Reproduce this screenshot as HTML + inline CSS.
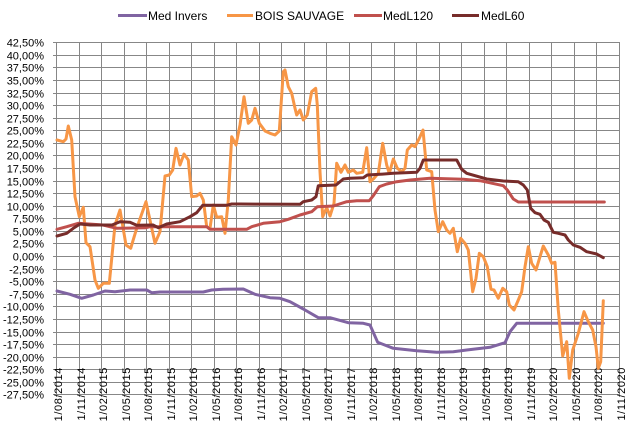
<!DOCTYPE html>
<html><head><meta charset="utf-8"><style>
html,body{margin:0;padding:0;background:#fff;}
svg{display:block;}
text{font-family:"Liberation Sans",sans-serif;fill:#000;}
</style></head><body>
<svg width="642" height="431" viewBox="0 0 642 431" xmlns="http://www.w3.org/2000/svg">
<rect width="642" height="431" fill="#fff"/>
<!-- legend -->
<g stroke-width="3">
<line x1="118" y1="15.5" x2="147" y2="15.5" stroke="#8064A2"/>
<line x1="227" y1="15.5" x2="253" y2="15.5" stroke="#F79646"/>
<line x1="354" y1="15.5" x2="382" y2="15.5" stroke="#C0504D"/>
<line x1="452" y1="15.5" x2="479" y2="15.5" stroke="#772C2A"/>
</g>
<g font-size="12">
<text x="148" y="20">Med Invers</text>
<text x="255" y="20">BOIS SAUVAGE</text>
<text x="383" y="20">MedL120</text>
<text x="481" y="20">MedL60</text>
</g>
<!-- grid -->
<path fill="none" stroke="#878787" stroke-width="1" d="
M53 42.5H620M53 55.5H620M53 67.5H620M53 80.5H620M53 93.5H620M53 105.5H620M53 118.5H620M53 130.5H620M53 143.5H620M53 155.5H620M53 168.5H620M53 181.5H620M53 193.5H620M53 206.5H620M53 218.5H620M53 231.5H620M53 243.5H620M53 256.5H620M53 269.5H620M53 281.5H620M53 294.5H620M53 306.5H620M53 319.5H620M53 332.5H620M53 344.5H620M53 357.5H620M53 369.5H620M53 382.5H620M53 394.5H620
M56.5 42V397M79.5 42V397M101.5 42V397M124.5 42V397M146.5 42V397M169.5 42V397M191.5 42V397M214.5 42V397M236.5 42V397M259.5 42V397M281.5 42V397M304.5 42V397M326.5 42V397M349.5 42V397M371.5 42V397M394.5 42V397M416.5 42V397M439.5 42V397M461.5 42V397M484.5 42V397M506.5 42V397M529.5 42V397M551.5 42V397M574.5 42V397M596.5 42V397M619.5 42V397"/>
<!-- y labels -->
<g font-size="11" text-anchor="end">
<text x="44" y="46.5">42,50%</text>
<text x="44" y="59.5">40,00%</text>
<text x="44" y="71.5">37,50%</text>
<text x="44" y="84.5">35,00%</text>
<text x="44" y="97.5">32,50%</text>
<text x="44" y="109.5">30,00%</text>
<text x="44" y="122.5">27,50%</text>
<text x="44" y="134.5">25,00%</text>
<text x="44" y="147.5">22,50%</text>
<text x="44" y="159.5">20,00%</text>
<text x="44" y="172.5">17,50%</text>
<text x="44" y="185.5">15,00%</text>
<text x="44" y="197.5">12,50%</text>
<text x="44" y="210.5">10,00%</text>
<text x="44" y="222.5">7,50%</text>
<text x="44" y="235.5">5,00%</text>
<text x="44" y="247.5">2,50%</text>
<text x="44" y="260.5">0,00%</text>
<text x="44" y="273.5">-2,50%</text>
<text x="44" y="285.5">-5,00%</text>
<text x="44" y="298.5">-7,50%</text>
<text x="44" y="310.5">-10,00%</text>
<text x="44" y="323.5">-12,50%</text>
<text x="44" y="336.5">-15,00%</text>
<text x="44" y="348.5">-17,50%</text>
<text x="44" y="361.5">-20,00%</text>
<text x="44" y="373.5">-22,50%</text>
<text x="44" y="386.5">-25,00%</text>
<text x="44" y="398.5">-27,50%</text>
</g>
<!-- x labels -->
<g font-size="11" text-anchor="end" letter-spacing="0.6">
<text transform="translate(62,367) rotate(-90)">1/08/2014</text>
<text transform="translate(85,367) rotate(-90)">1/11/2014</text>
<text transform="translate(107,367) rotate(-90)">1/02/2015</text>
<text transform="translate(130,367) rotate(-90)">1/05/2015</text>
<text transform="translate(152,367) rotate(-90)">1/08/2015</text>
<text transform="translate(175,367) rotate(-90)">1/11/2015</text>
<text transform="translate(197,367) rotate(-90)">1/02/2016</text>
<text transform="translate(220,367) rotate(-90)">1/05/2016</text>
<text transform="translate(242,367) rotate(-90)">1/08/2016</text>
<text transform="translate(265,367) rotate(-90)">1/11/2016</text>
<text transform="translate(287,367) rotate(-90)">1/02/2017</text>
<text transform="translate(310,367) rotate(-90)">1/05/2017</text>
<text transform="translate(332,367) rotate(-90)">1/08/2017</text>
<text transform="translate(355,367) rotate(-90)">1/11/2017</text>
<text transform="translate(377,367) rotate(-90)">1/02/2018</text>
<text transform="translate(400,367) rotate(-90)">1/05/2018</text>
<text transform="translate(422,367) rotate(-90)">1/08/2018</text>
<text transform="translate(445,367) rotate(-90)">1/11/2018</text>
<text transform="translate(467,367) rotate(-90)">1/02/2019</text>
<text transform="translate(490,367) rotate(-90)">1/05/2019</text>
<text transform="translate(512,367) rotate(-90)">1/08/2019</text>
<text transform="translate(535,367) rotate(-90)">1/11/2019</text>
<text transform="translate(557,367) rotate(-90)">1/02/2020</text>
<text transform="translate(580,367) rotate(-90)">1/05/2020</text>
<text transform="translate(602,367) rotate(-90)">1/08/2020</text>
<text transform="translate(625,367) rotate(-90)">1/11/2020</text>
</g>
<!-- series -->
<g fill="none" stroke-width="3" stroke-linejoin="round" stroke-linecap="round">
<polyline stroke="#8064A2" points="57,291 70,294.3 81.7,298.3 93.3,295 105,291 115,291.7 130,290 146.7,290 151.7,292.7 160,292 203.3,292 211.7,290 223,289.3 243.3,289 255,294.3 270,297.7 280,298.3 290,301.7 303.3,309 318.3,317.7 330,317.7 348.3,322.7 363.3,323.3 370,325 377.7,342.3 393.3,348.3 416.7,350.7 436.7,352.3 453.3,351.7 466.7,350 490,347.3 505,342.7 510,331.7 516.7,323.3 603.3,323.3"/>
<polyline stroke="#F79646" points="57,140 63.3,141.7 66,139 68.3,126 71.7,140 75,196.7 79.3,216.7 83.3,207.3 86,242.7 90,246.7 95,280 98.3,288.3 103.3,283.3 109.3,283.3 115,225 120,210 126,245 130.7,248.3 136.7,228.3 146,201.7 155,243.3 160,231.7 165,176 169.3,175 172.7,170 176,148.3 180,165 184,154 188.3,160 191.7,196.7 196.7,196 200,193.3 203.3,200 206.7,226.7 210,228.3 213.3,205 216.7,217.3 221.7,216.7 225,233.3 228.3,200 231.7,136.7 236,145 240,125 244,96.7 248.3,123.3 251.7,120 255,108.3 259.3,123.3 265,131 270,133.3 275,135 279.3,131 283.3,71.7 285,70 288.3,86.7 291.7,93.3 295,108.3 296.7,115 300,110 303.3,120 307.3,115 311.7,91.7 315.7,88.3 317.3,105 320,171.7 322.7,216.7 326.7,207.7 330,216 334,203.3 336.7,163.3 341,172.3 345,165 348.3,172.3 353.3,170 356.7,173.3 362.7,172.3 366.7,147.7 370,181.7 374,178.3 378.3,173.3 382.7,143.3 386.7,165 389.3,173.3 393.3,159 397.3,168.3 401.7,171.7 405,168.3 407.3,150 411.7,145 415,146.7 419.3,138.3 423,130 426.7,170 431.7,171.7 435,210 438.3,231.7 442.7,221.7 446.7,230 450,233.3 453.3,228.3 457.3,251.7 460.7,238.3 465,243.3 468.3,250 472.7,291.7 476,278.3 479.3,253.3 483.3,256.7 487.3,266.7 491,289.3 494,290 498.3,298.3 502.7,288.3 506.7,291.7 509.3,305 514,310 518.3,300 521.7,291.7 525,266.7 528.3,246.7 531.7,263.3 536,270 540,256.7 543.3,246 548.3,255 551.7,263.3 555,262.3 558.3,310 562.7,356 566.7,341.7 569.3,378.3 572.7,350 578.3,333.3 584,311.7 588.3,321.7 592.7,330 596,346.7 598.3,368.3 600.7,361.7 603.3,300.7"/>
<polyline stroke="#C0504D" points="57,229.3 66.7,226.7 78.3,223.3 103,225 116.7,228.3 146,227.7 150,226.7 206.7,226.7 210,229.3 246.7,229.3 251.7,226.7 263.3,223.3 280,221.7 288.3,219.3 300,215 311.7,211.7 317.3,206.7 333.3,206 346.7,201.7 356.7,200.7 369.3,200.7 373.3,195.7 379.3,186.7 386.7,184 396.7,181.7 410,180 430,178.3 463.3,179.3 480,180.7 503.3,185.7 507.3,190 513.3,199 518.3,202 604.3,202"/>
<polyline stroke="#772C2A" points="57,236 66.7,233.3 73.3,228.3 80,224 90,225 112,225 120,221.7 130,222.3 136.7,225.3 153,225 158.3,227.7 166.7,224 180,221.7 190,216.7 196.7,212.7 202.7,205.3 226.7,205.3 231.7,204 240,204 300,204.3 303.3,201.7 311.7,200 316,196.7 318.3,185.7 336,185 343.3,179 350,178.3 363.3,177.7 367.3,175 380,174.3 393.3,173.3 416.7,172.3 420,168.3 423.3,160 456.7,160 461.7,169.3 466.7,173.3 486.7,179 503.3,181 518.3,181.7 523.3,185 527.3,190 530.7,208.3 535,212.7 540,214.3 544,220 548.3,222.3 553.3,232.3 558.3,233.3 565,235 568.3,240 573.3,245 580,247.3 586.7,251.7 596.7,254 603.3,257.7"/>
</g>
</svg>
</body></html>
